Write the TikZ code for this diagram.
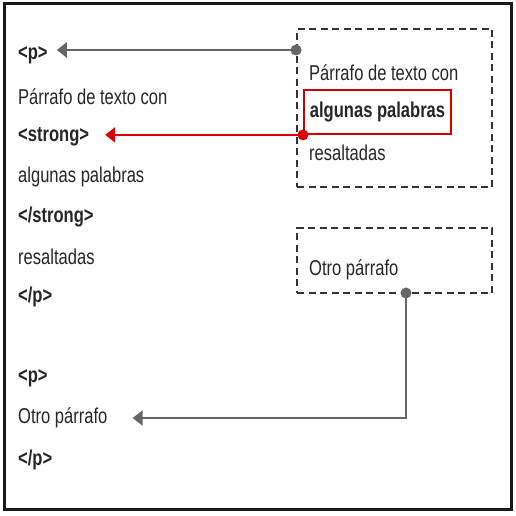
\documentclass[tikz,border=0pt]{standalone}
\usepackage{fontspec}
\setmainfont{Liberation Sans}[FakeStretch=0.77]
\usetikzlibrary{arrows.meta}
\usetikzlibrary{positioning}

\begin{document}
\begin{tikzpicture}[x=1pt, y=-1pt,
  code/.style={anchor=west, inner sep=0pt, text=black!85, font=\fontsize{21.5}{23}\selectfont},
  tag/.style={code, font=\fontsize{21.5}{23}\selectfont\bfseries},
  dashbox/.style={draw=black!80, line width=1.8pt, dash pattern=on 7pt off 4.5pt,
    minimum width=195pt, inner sep=0pt},
  link/.style={line width=2.8pt, draw=black!60, -{Triangle[length=10pt, width=15pt]}},
  dot/.style={circle, fill=black!60, inner sep=0pt, minimum size=11pt}]
%%% page and frame %%%
\useasboundingbox (0,0) rectangle (516,516);
\draw[line width=3pt, black!90] (4,4) rectangle (511,509);

%%% source code, left column %%%
      \node[tag]  (p1)      at (18,55)  {<p>};
      \node[code] (text1)   at (18,97)  {Párrafo de texto con};
      \node[tag]  (strong1) at (18,137) {<strong>};
      \node[code] (text2)   at (18,177) {algunas palabras};
      \node[tag]  (strong2) at (18,217) {</strong>};
      \node[code] (text3)   at (18,257) {resaltadas};
      \node[tag]  (p2)      at (18,297) {</p>};
      %%
      \node[tag]  (p3)      at (18,378) {<p>};
      \node[code] (otro)    at (18,418) {Otro párrafo};
      \node[tag]  (p4)      at (18,460) {</p>};

%%% rendered page, right column %%%
      \node[dashbox, minimum height=158pt] (box1) at (394.5,108) {};
      \node[code] (rtext1) at (309,73)  {Párrafo de texto con};
      \node[code, draw=red!80!black, line width=1.8pt, inner xsep=6pt,
            minimum height=44pt, font=\fontsize{21.5}{23}\selectfont\bfseries]
            (strongbox) at (303,112) {algunas palabras};
      \node[code] (rtext3) at (309,153) {resaltadas};
      %%
      \node[dashbox, minimum height=65pt] (box2) at (394.5,260.5) {};
      \node[code] (rotro) at (309,270) {Otro párrafo};

%%% connectors %%%
      \node[dot] (dot1) at (box1.west |- 0,50) {};
      \draw[link] (dot1.center) -- ([xshift=9pt]p1.east |- dot1);
      %%
      \node[dot, fill=red!85!black] (dot2) at (strongbox.south west) {};
      \draw[link, draw=red!85!black] (dot2.center) -- ([xshift=16pt]strong1.east |- dot2);
      %%
      \node[dot] (dot3) at (406,293) {};
      \coordinate (bend) at (dot3 |- otro);
      \draw[link, line width=2.2pt] (dot3.center) -- (bend) -- ([xshift=25pt]otro.east);

\end{tikzpicture}
\end{document}
